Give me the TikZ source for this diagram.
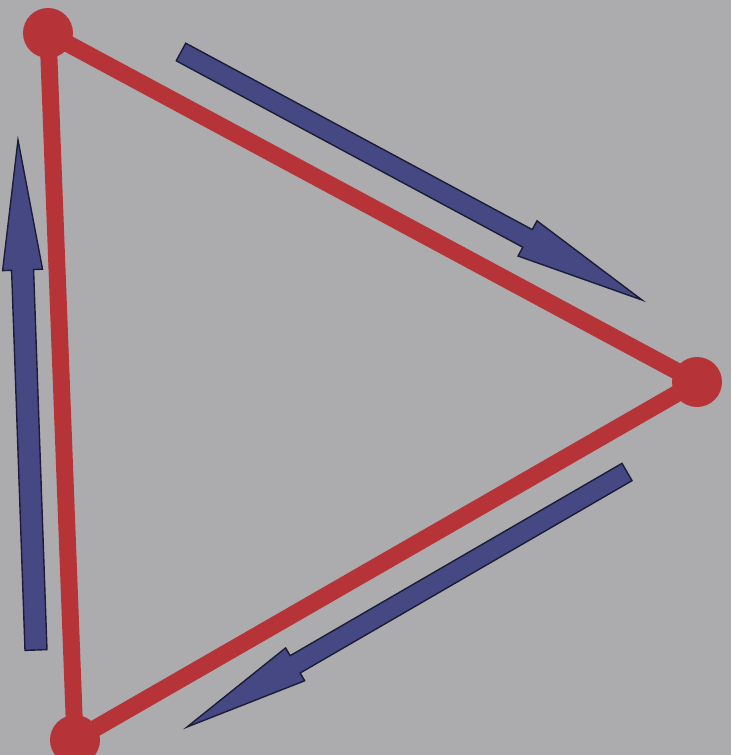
\documentclass[tikz,border=0pt]{standalone}
\usetikzlibrary{calc}
\definecolor{bg}{RGB}{172,172,174}
\definecolor{redline}{RGB}{182,52,56}
\definecolor{bluefill}{RGB}{70,72,132}
\definecolor{blueedge}{RGB}{28,28,56}
\tikzset{
  vertex/.style={circle,fill=redline,minimum size=50pt,inner sep=0pt},
  edge/.style={draw=redline,line width=17pt},
  bigarrow/.style={fill=bluefill,draw=blueedge,line width=1.4pt,line join=miter},
}
% #1 tail, #2 tip, #3 head length, #4 head half width, #5 shaft half width
\newcommand{\fatarrow}[5]{%
  \coordinate (hb) at ($(#2)!#3!(#1)$);
  \draw[bigarrow]
    ($(#1)!#5!90:(#2)$) -- ($(hb)!#5!-90:(#1)$) -- ($(hb)!#4!-90:(#1)$) -- (#2)
    -- ($(hb)!#4!90:(#1)$) -- ($(hb)!#5!90:(#1)$) -- ($(#1)!#5!-90:(#2)$) -- cycle;
}
\begin{document}
\begin{tikzpicture}[x=1pt,y=-1pt]
  \fill[bg] (0,0) rectangle (731,755);
  \useasboundingbox (0,0) rectangle (731,755);
  % vertices
  \node[vertex] (A) at (48,33) {};
  \node[vertex] (B) at (697,382) {};
  \node[vertex] (C) at (75,740) {};
  % edges
  \draw[edge] (A.center) -- (B.center);
  \draw[edge] (B.center) -- (C.center);
  \draw[edge] (C.center) -- (A.center);
  % arrows
  \coordinate (t1) at (181,52);  \coordinate (h1) at (642,300);
  \coordinate (t2) at (627,472); \coordinate (h2) at (187,727);
  \coordinate (t3) at (36,650);  \coordinate (h3) at (18,140);
  \fatarrow{t1}{h1}{130pt}{20pt}{10pt}
  \fatarrow{t2}{h2}{125pt}{19pt}{10pt}
  \fatarrow{t3}{h3}{130pt}{20pt}{11pt}
\end{tikzpicture}
\end{document}
